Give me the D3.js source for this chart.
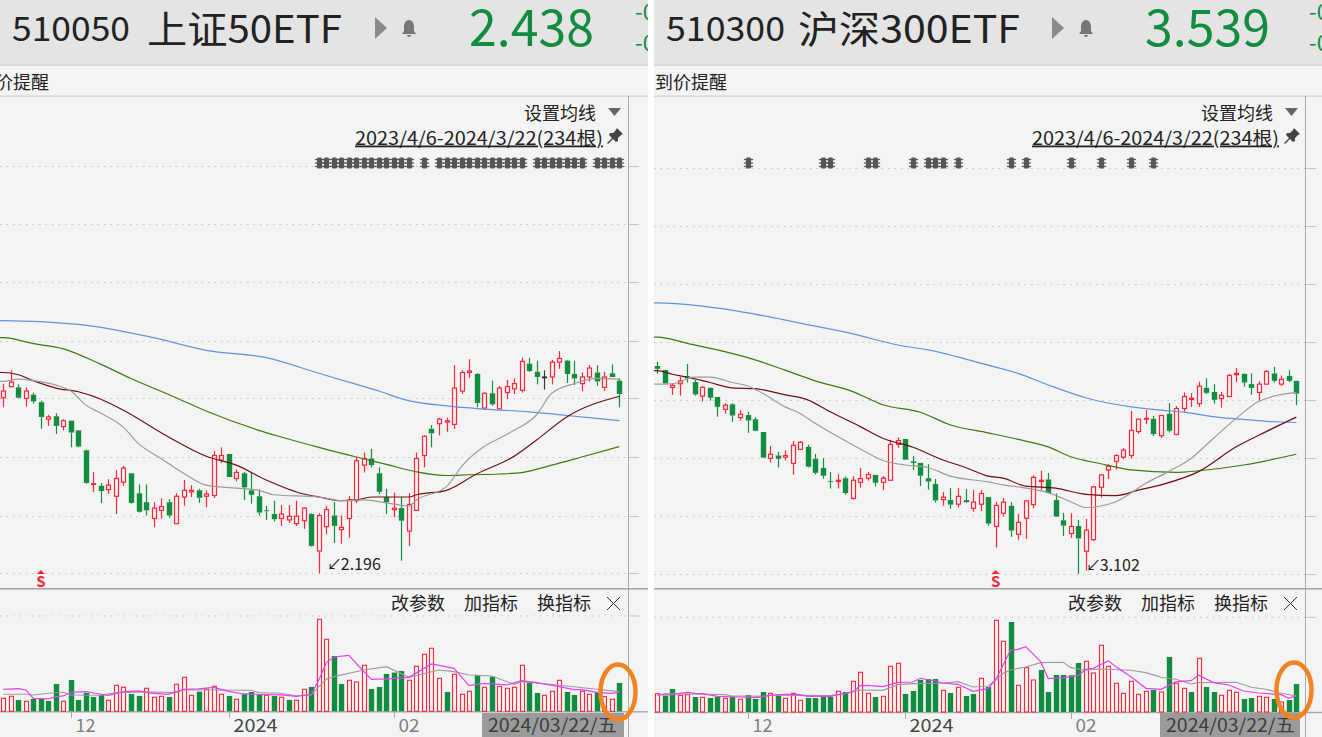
<!DOCTYPE html>
<html><head><meta charset="utf-8">
<script src="https://cdn.jsdelivr.net/npm/d3@7"></script>
<style>html,body{margin:0;padding:0;background:#fff;overflow:hidden}svg{display:block}text{font-family:"Noto Sans CJK SC","Noto Sans",sans-serif}</style>
</head><body><svg id="c" width="1322" height="737"></svg>
<script>
// ---------- 510050: [high, body top, body bottom, low]
const a50Candles=[[2.452,2.442,2.433,2.420],[2.470,2.454,2.448,2.447],[2.451,2.447,2.433,2.432],[2.447,2.442,2.432,2.421],[2.440,2.437,2.428,2.425],[2.429,2.427,2.407,2.391],[2.410,2.407,2.404,2.395],[2.412,2.408,2.395,2.384],[2.404,2.402,2.394,2.389],[2.402,2.402,2.386,2.366],
[2.389,2.389,2.367,2.366],[2.363,2.362,2.318,2.317],[2.333,2.317,2.316,2.306],[2.318,2.314,2.307,2.291],[2.323,2.315,2.309,2.303],[2.335,2.324,2.300,2.276],[2.341,2.338,2.319,2.314],[2.331,2.331,2.291,2.290],[2.316,2.304,2.279,2.278],[2.316,2.292,2.281,2.274],
[2.292,2.284,2.270,2.258],[2.297,2.286,2.281,2.270],[2.296,2.292,2.274,2.271],[2.304,2.300,2.263,2.263],[2.322,2.308,2.299,2.287],[2.315,2.308,2.306,2.299],[2.310,2.308,2.298,2.291],[2.308,2.303,2.300,2.285],[2.361,2.355,2.301,2.298],[2.366,2.355,2.349,2.345],
[2.357,2.357,2.326,2.326],[2.336,2.332,2.324,2.320],[2.333,2.331,2.312,2.295],[2.332,2.308,2.302,2.290],[2.309,2.300,2.278,2.274],[2.287,2.281,2.280,2.268],[2.294,2.276,2.269,2.266],[2.288,2.276,2.270,2.260],[2.288,2.273,2.268,2.264],[2.294,2.273,2.263,2.260],
[2.285,2.284,2.267,2.256],[2.277,2.276,2.233,2.232],[2.277,2.274,2.226,2.196],[2.287,2.282,2.259,2.249],[2.292,2.274,2.260,2.237],[2.274,2.258,2.255,2.236],[2.300,2.295,2.270,2.244],[2.353,2.348,2.294,2.291],[2.359,2.351,2.342,2.332],[2.364,2.351,2.342,2.339],
[2.339,2.331,2.306,2.303],[2.310,2.299,2.292,2.276],[2.305,2.284,2.282,2.272],[2.299,2.284,2.267,2.213],[2.304,2.289,2.253,2.233],[2.359,2.351,2.281,2.280],[2.382,2.381,2.355,2.339],[2.396,2.391,2.385,2.366],[2.406,2.404,2.398,2.382],[2.406,2.402,2.400,2.387],
[2.477,2.446,2.397,2.391],[2.470,2.467,2.442,2.438],[2.485,2.469,2.467,2.460],[2.466,2.465,2.426,2.420],[2.440,2.439,2.419,2.417],[2.456,2.439,2.424,2.422],[2.449,2.446,2.418,2.417],[2.457,2.448,2.440,2.431],[2.459,2.452,2.445,2.438],[2.487,2.482,2.443,2.440],
[2.487,2.479,2.469,2.468],[2.483,2.468,2.461,2.451],[2.470,2.461,2.461,2.444],[2.484,2.481,2.461,2.451],[2.496,2.486,2.481,2.472],[2.484,2.483,2.465,2.453],[2.483,2.465,2.459,2.450],[2.467,2.461,2.452,2.442],[2.477,2.473,2.461,2.455],[2.477,2.467,2.455,2.449],
[2.468,2.461,2.447,2.442],[2.478,2.466,2.461,2.461],[2.459,2.456,2.438,2.420]];
const a50Dir="rrgrggrgrg"+"ggrgrrrggg"+"rrgrrrgrrr"+"grgggggrrr"+"rgrrgrrrrg"+"ggrgrrrgrr"+"rrrgrgrrrr"+"ggkrrggrrg"+"rgg";
const a50Volume=[39,45,34,30,37,37,31,82,30,94,34,55,43,49,33,78,72,52,46,69,42,45,43,81,102,48,59,66,75,51,46,36,52,58,49,48,46,42,34,33,66,73,276,216,166,82,93,88,138,67,73,112,116,121,93,135,171,189,99,58,111,51,60,109,72,104,75,69,72,138,86,55,48,60,93,58,49,60,51,58,44,36,85];
const a50VolDir="rrgrggggrg"+"ggggrrrggr"+"rrgrrrgrrr"+"grgggrgrgr"+"rgrrggrrrg"+"ggggrrrrrg"+"rrrgrgrrrr"+"ggrrrggrrg"+"rrg";
const a50Ma120=[[0,2.537],[10,2.532],[20,2.514],[27,2.497],[35,2.487],[42,2.466],[46,2.454],[50,2.442],[54,2.429],[55,2.427],[60,2.421],[65,2.417],[70,2.414],[75,2.409],[82,2.402]];
const a50Ma60=[[0,2.514],[4,2.506],[8,2.499],[13,2.478],[17,2.459],[23,2.433],[27,2.415],[34,2.389],[37,2.380],[42,2.366],[47,2.353],[51,2.343],[55,2.333],[59,2.328],[62,2.329],[66,2.330],[69,2.332],[73,2.342],[77,2.353],[82,2.367]];
const a50Ma30=[[0,2.467],[2,2.464],[4,2.456],[7,2.446],[10,2.441],[13,2.431],[16,2.416],[22,2.380],[27,2.354],[31,2.342],[35,2.322],[40,2.303],[42,2.299],[45,2.294],[47,2.295],[49,2.299],[51,2.299],[54,2.299],[55,2.302],[59,2.308],[63,2.330],[68,2.354],[71,2.376],[75,2.407],[82,2.435]];
const a50Ma10=[[0,2.455],[2,2.458],[4,2.456],[7,2.450],[9,2.442],[11,2.423],[13,2.412],[16,2.393],[18,2.371],[21,2.351],[24,2.331],[27,2.315],[31,2.311],[34,2.308],[36,2.302],[42,2.299],[45,2.294],[48,2.295],[51,2.291],[54,2.287],[55,2.295],[59,2.313],[61,2.340],[64,2.367],[66,2.378],[68,2.389],[71,2.410],[73,2.439],[76,2.452],[79,2.459],[82,2.458]];
const a50VolMaA=[[0,66],[2,68],[3,64],[4,39],[6,37],[7,44],[8,46],[9,57],[11,59],[12,55],[14,48],[16,59],[18,61],[20,54],[22,51],[23,59],[24,66],[26,67],[28,72],[30,60],[32,52],[35,50],[37,49],[39,45],[41,51],[42,94],[43,146],[44,163],[46,168],[48,119],[49,96],[51,97],[54,102],[57,142],[60,129],[62,77],[64,84],[66,81],[67,79],[69,92],[71,86],[74,74],[76,65],[77,65],[79,57],[81,54],[82,57]];
const a50VolMaB=[[0,51],[3,51],[4,49],[6,54],[8,57],[9,49],[13,48],[15,56],[20,58],[23,56],[24,64],[28,64],[33,63],[34,56],[37,54],[39,46],[41,49],[42,74],[43,96],[44,104],[48,124],[51,134],[54,102],[58,124],[60,119],[62,109],[65,106],[68,81],[69,89],[75,76],[79,66],[82,59]];
const a50Events=[42,43,44,45,46,47,48,49,50,51,52,53,54,56,58,59,60,61,62,63,64,65,66,67,68,69,71,72,73,74,75,76,77,79,80,81,82];
const a50Grid=[2.196,2.274,2.353,2.432,2.510,2.589,2.667,2.746];

// ---------- 510300
const a300Candles=[[3.616,3.606,3.599,3.587],[3.597,3.596,3.564,3.562],[3.564,3.559,3.554,3.536],[3.580,3.570,3.563,3.534],[3.611,3.581,3.576,3.566],[3.572,3.567,3.537,3.534],[3.558,3.554,3.533,3.520],[3.554,3.553,3.529,3.522],[3.531,3.531,3.507,3.483],[3.516,3.511,3.501,3.490],
[3.516,3.513,3.486,3.471],[3.499,3.489,3.481,3.474],[3.495,3.487,3.474,3.444],[3.482,3.477,3.449,3.448],[3.446,3.446,3.384,3.383],[3.412,3.392,3.382,3.372],[3.398,3.389,3.381,3.360],[3.402,3.389,3.385,3.377],[3.424,3.414,3.370,3.343],[3.424,3.421,3.404,3.402],
[3.415,3.410,3.362,3.360],[3.393,3.381,3.347,3.343],[3.383,3.359,3.340,3.333],[3.349,3.327,3.326,3.309],[3.344,3.329,3.326,3.309],[3.338,3.334,3.298,3.294],[3.339,3.329,3.285,3.282],[3.359,3.333,3.324,3.311],[3.349,3.343,3.334,3.328],[3.342,3.342,3.323,3.314],
[3.339,3.334,3.324,3.306],[3.427,3.416,3.329,3.328],[3.433,3.425,3.416,3.408],[3.429,3.429,3.379,3.378],[3.388,3.375,3.371,3.354],[3.371,3.371,3.340,3.315],[3.368,3.334,3.326,3.306],[3.332,3.320,3.280,3.275],[3.301,3.288,3.282,3.267],[3.310,3.281,3.270,3.260],
[3.310,3.290,3.271,3.263],[3.308,3.281,3.276,3.274],[3.305,3.276,3.261,3.253],[3.305,3.297,3.271,3.255],[3.288,3.288,3.224,3.219],[3.276,3.268,3.217,3.166],[3.286,3.276,3.249,3.241],[3.276,3.267,3.207,3.192],[3.247,3.227,3.198,3.185],[3.281,3.279,3.237,3.187],
[3.341,3.336,3.270,3.261],[3.352,3.329,3.326,3.305],[3.347,3.331,3.298,3.297],[3.297,3.281,3.241,3.241],[3.250,3.232,3.219,3.194],[3.249,3.217,3.200,3.189],[3.233,3.218,3.188,3.102],[3.235,3.208,3.157,3.110],[3.315,3.313,3.185,3.182],[3.344,3.342,3.312,3.287],
[3.368,3.363,3.354,3.332],[3.392,3.389,3.375,3.355],[3.407,3.402,3.385,3.381],[3.497,3.450,3.389,3.382],[3.479,3.477,3.447,3.442],[3.499,3.479,3.477,3.465],[3.485,3.478,3.441,3.436],[3.487,3.486,3.437,3.432],[3.516,3.490,3.449,3.445],[3.509,3.503,3.440,3.438],
[3.542,3.532,3.503,3.495],[3.540,3.528,3.525,3.507],[3.568,3.557,3.515,3.507],[3.576,3.553,3.541,3.538],[3.562,3.543,3.524,3.515],[3.543,3.535,3.527,3.505],[3.587,3.583,3.532,3.532],[3.601,3.588,3.585,3.567],[3.588,3.587,3.566,3.556],[3.588,3.562,3.553,3.536],
[3.569,3.562,3.542,3.522],[3.596,3.593,3.562,3.561],[3.604,3.588,3.570,3.566],[3.583,3.574,3.562,3.558],[3.596,3.582,3.570,3.567],[3.570,3.570,3.539,3.511]];
const a300Dir="ggrrggrggr"+"grgggrgrrr"+"ggggrgrrrg"+"rrrgggggrg"+"rgrrgrrgrr"+"rrgggrgrrr"+"rrrrrrgrgr"+"rrrggrrrgg"+"rrgrgg";
const a300Volume=[55,49,69,50,52,45,44,42,45,41,45,38,51,39,60,56,49,41,56,35,42,42,45,45,62,60,92,119,56,45,47,137,146,54,63,96,99,99,65,57,74,48,54,101,75,275,212,270,80,133,96,126,60,111,111,110,147,152,117,200,137,86,56,92,53,62,66,60,165,86,71,60,161,75,60,50,65,59,39,42,47,44,39,30,36,84];
const a300VolDir="rggrrgrggr"+"grgggrgrrr"+"ggggrgrrrg"+"rrrgggggrg"+"rggrgrrgrr"+"rggggggrrr"+"rrrrrrgrgr"+"rgrggrrrgg"+"rrgrgg";
const a300Ma120=[[0,3.759],[6,3.751],[12,3.735],[19,3.710],[26,3.684],[32,3.657],[36,3.645],[44,3.608],[48,3.588],[52,3.560],[57,3.529],[59,3.520],[63,3.507],[67,3.499],[70,3.494],[75,3.481],[77,3.478],[81,3.472],[85,3.469]];
const a300Ma60=[[0,3.676],[4,3.661],[8,3.645],[13,3.621],[17,3.596],[21,3.570],[26,3.544],[30,3.512],[35,3.494],[39,3.463],[44,3.444],[48,3.428],[52,3.410],[55,3.386],[59,3.369],[63,3.354],[69,3.348],[72,3.352],[78,3.366],[85,3.392]];
const a300Ma30=[[0,3.595],[2,3.586],[4,3.579],[7,3.566],[10,3.553],[13,3.551],[17,3.536],[20,3.524],[23,3.495],[27,3.459],[30,3.431],[34,3.409],[38,3.378],[41,3.360],[44,3.339],[46,3.334],[49,3.315],[53,3.310],[57,3.295],[61,3.292],[64,3.305],[67,3.318],[72,3.350],[77,3.410],[81,3.447],[85,3.482]];
const a300Ma10=[[0,3.562],[1,3.562],[3,3.566],[4,3.576],[5,3.579],[7,3.579],[10,3.566],[12,3.558],[14,3.540],[17,3.507],[19,3.491],[21,3.467],[24,3.435],[27,3.405],[30,3.377],[33,3.366],[36,3.360],[39,3.339],[44,3.325],[46,3.318],[49,3.310],[52,3.299],[55,3.277],[57,3.263],[61,3.277],[65,3.322],[68,3.350],[71,3.382],[74,3.431],[77,3.479],[80,3.520],[85,3.542]];
const a300VolMaA=[[0,51],[2,52],[3,56],[4,59],[5,56],[6,55],[8,47],[11,45],[13,43],[15,50],[17,53],[19,52],[20,47],[23,47],[26,60],[27,79],[28,80],[30,76],[32,89],[34,90],[35,101],[37,93],[38,87],[40,83],[42,62],[44,70],[45,96],[47,186],[48,188],[49,196],[51,151],[52,100],[54,103],[56,110],[57,128],[58,131],[60,154],[61,136],[63,106],[65,71],[67,68],[69,91],[71,94],[72,110],[74,88],[76,81],[78,63],[80,57],[83,52],[84,41],[85,49]];
const a300VolMaB=[[0,50],[1,55],[4,54],[9,52],[10,48],[12,48],[14,47],[16,51],[19,50],[23,49],[25,56],[27,66],[30,65],[32,82],[34,85],[38,86],[40,91],[42,75],[44,78],[45,96],[46,116],[47,126],[49,135],[51,148],[54,149],[55,133],[57,125],[59,129],[63,125],[65,118],[67,104],[69,98],[71,84],[72,88],[77,89],[79,74],[81,68],[83,56],[85,48]];
const a300Events=[12,22,23,28,29,34,36,37,38,40,47,49,55,59,63,66];
const a300Grid=[3.102,3.242,3.383,3.523,3.664,3.805,3.946,4.087];

const tickLabels=["12","2024","02"];
const tickWidths=[20,44,21];
const a50TickIdx=[9,30,52], a300TickIdx=[12,33,55];
const menuLabels=["改参数","加指标","换指标"];

const C={red:"#ff2438",green:"#128c3e",doji:"#333",ma120:"#5f93dc",ma60:"#3d7a12",ma30:"#6e0f12",ma10:"#9c9c9c",magenta:"#e83ff0",grid:"#c4c4c4",line:"#b4b4b4",orange:"#f58220"};
const svg=d3.select("#c");
const defs=svg.append("defs");

function drawPanel(o){
  const cid="clip"+o.code;
  defs.append("clipPath").attr("id",cid).append("rect").attr("x",o.left).attr("y",0).attr("width",o.right-o.left).attr("height",737);
  const g=svg.append("g").attr("clip-path",`url(#${cid})`);
  const t=(s,x,y,size,fill,anchor)=>g.append("text").text(s).attr("x",x).attr("y",y).attr("font-size",size).attr("fill",fill||"#222").attr("text-anchor",anchor||"start");
  const fit=(sel,w)=>sel.attr("textLength",w).attr("lengthAdjust","spacingAndGlyphs");
  g.append("rect").attr("x",o.left).attr("y",0).attr("width",o.right-o.left).attr("height",737).attr("fill","#f4f4f4");
  g.append("rect").attr("x",o.left).attr("y",0).attr("width",o.right-o.left).attr("height",65).attr("fill","#e4e4e4");
  g.append("rect").attr("x",o.left).attr("y",64).attr("width",o.right-o.left).attr("height",2).attr("fill","#dadada");
  g.append("rect").attr("x",o.left).attr("y",95.5).attr("width",o.right-o.left).attr("height",1.2).attr("fill","#cfcfcf");

  // header
  fit(t(o.code,o.left+12,41,34,"#222"),o.codeW);
  fit(t(o.name,o.nameX,43,38,"#222"),o.nameW);
  g.append("path").attr("d",`M${o.arrowX},17L${o.arrowX+12},28L${o.arrowX},39Z`).attr("fill","#8a8a8a");
  const b=o.arrowX+34;
  g.append("path").attr("d",`M${b},20c-3,0-5,3-5,7l0,4l-2,3l14,0l-2,-3l0,-4c0,-4-2,-7-5,-7ZM${b-2},35a2,2 0 0 0 4,0Z`).attr("fill","#777");
  t(o.price,o.priceX,46,50,C.green);
  t("-0",o.right-13,20,22,C.green);
  t("-0",o.right-13,51,22,C.green);
  t("到价提醒",o.alertX,89,18,"#222");

  const x=d3.scaleLinear().domain([0,o.candles.length-1]).range(o.xr);
  const y=d3.scaleLinear().domain(o.pd).range(o.pr);
  const v=d3.scaleLinear().domain([0,o.vmax]).range(o.vr);

  // grid
  g.selectAll(null).data(o.grid).enter().append("line").attr("x1",o.left).attr("x2",o.axisX).attr("y1",d=>Math.round(y(d))+.5).attr("y2",d=>Math.round(y(d))+.5).attr("stroke",C.grid).attr("stroke-dasharray","1.5,5");
  g.selectAll(null).data(o.grid).enter().append("line").attr("x1",o.axisX).attr("x2",o.axisX+11).attr("y1",d=>Math.round(y(d))+.5).attr("y2",d=>Math.round(y(d))+.5).attr("stroke",C.grid);
  const vg=v(o.vgrid);
  g.append("line").attr("x1",o.left).attr("x2",o.axisX).attr("y1",vg).attr("y2",vg).attr("stroke",C.grid).attr("stroke-dasharray","1.5,5");
  g.append("line").attr("x1",o.axisX).attr("x2",o.axisX+11).attr("y1",vg).attr("y2",vg).attr("stroke",C.grid);
  g.append("line").attr("x1",o.axisX+.5).attr("x2",o.axisX+.5).attr("y1",96).attr("y2",737).attr("stroke","#aaa");
  g.append("rect").attr("x",o.left).attr("y",588).attr("width",o.right-o.left).attr("height",1.6).attr("fill","#a8a8a8");
  g.append("rect").attr("x",o.left).attr("y",v(0)-.2).attr("width",o.right-o.left).attr("height",1.4).attr("fill","#a8a8a8");

  // candles
  const col=i=>o.dir[i]==="r"?C.red:o.dir[i]==="g"?C.green:C.doji;
  const cg=g.append("g");
  o.candles.forEach((c,i)=>{
    const [hi,top,bot,lo]=c, cx=Math.round(x(i))+.5, s=col(i);
    cg.append("line").attr("x1",cx).attr("x2",cx).attr("y1",y(hi)).attr("y2",y(top)).attr("stroke",s).attr("stroke-width",1.2);
    cg.append("line").attr("x1",cx).attr("x2",cx).attr("y1",y(bot)).attr("y2",y(lo)).attr("stroke",s).attr("stroke-width",1.2);
    const h=Math.max(y(bot)-y(top),.8);
    if(o.dir[i]==="g") cg.append("rect").attr("x",cx-2.7).attr("y",y(top)).attr("width",5.4).attr("height",h).attr("fill",s);
    else cg.append("rect").attr("x",cx-2).attr("y",y(top)).attr("width",4).attr("height",h).attr("fill","none").attr("stroke",s).attr("stroke-width",1.2);
  });

  // moving averages
  const ln=d3.line().curve(d3.curveMonotoneX).x(d=>x(d[0])).y(d=>y(d[1]));
  [[o.ma120,C.ma120],[o.ma60,C.ma60],[o.ma30,C.ma30],[o.ma10,C.ma10]].forEach(([d,s])=>g.append("path").attr("d",ln([[-.5,d[0][1]],...d])).attr("fill","none").attr("stroke",s).attr("stroke-width",1.2));

  // events
  o.events.forEach(i=>{
    const cx=Math.round(x(i))+.5;
    const m=g.append("g").attr("transform",`translate(${cx},163)`).attr("fill","#565656");
    m.append("rect").attr("x",-2.6).attr("y",-5.5).attr("width",5.2).attr("height",11).attr("rx",1.5);
    [-3.5,0,3.5].forEach(d=>m.append("rect").attr("x",-4.6).attr("y",d-.6).attr("width",9.2).attr("height",1.2));
  });

  // low label + S signal
  const li=o.lowIdx, lx=x(li), ly=o.lowLabelY;
  t("↙",lx+o.lowDx,ly+6,15,"#222");
  t(o.lowText,lx+o.lowDx+14,ly+6,16,"#222");
  const sx=x(o.signalIdx);
  g.append("path").attr("d",`M${sx-4},574L${sx},570L${sx+4},574Z`).attr("fill",C.red);
  t("S",sx,587,15,C.red,"middle").attr("font-weight",700).attr("font-family","DejaVu Sans");

  // top-right controls
  t("设置均线",o.axisX-104,120,18);
  g.append("path").attr("d",`M${o.axisX-20},108L${o.axisX-7},108L${o.axisX-13.5},116Z`).attr("fill","#666");
  fit(t(o.range,o.axisX-273,144.5,18),o.rangeW).attr("text-decoration","underline");
  const p=o.axisX-21;
  g.append("path").attr("d",`M${p+10},128l6,6l-2,1l-3,3l0,3l-2,1l-3,-3l-5,5l-1,-1l5,-5l-3,-3l1,-2l3,0l3,-3Z`).attr("fill","#444");

  menuLabels.forEach((s,i)=>t(s,o.menuX+i*73,610,18));
  const cxx=o.axisX-21;
  g.append("path").attr("d",`M${cxx},597L${cxx+13},610M${cxx+13},597L${cxx},610`).attr("stroke","#333").attr("fill","none");

  // volume
  const vgp=g.append("g");
  o.volume.forEach((d,i)=>{
    const cx=Math.round(x(i))+.5, s=o.volDir[i]==="r"?C.red:C.green;
    if(o.volDir[i]==="g") vgp.append("rect").attr("x",cx-2.7).attr("y",v(d)).attr("width",5.4).attr("height",v(0)-v(d)).attr("fill",s);
    else vgp.append("rect").attr("x",cx-2).attr("y",v(d)).attr("width",4).attr("height",v(0)-v(d)).attr("fill","none").attr("stroke",s).attr("stroke-width",1.1);
  });
  const lv=d3.line().x(d=>x(d[0])).y(d=>v(d[1]));
  g.append("path").attr("d",lv(o.volMaB)).attr("fill","none").attr("stroke","#9c9c9c").attr("stroke-width",1.1);
  g.append("path").attr("d",lv(o.volMaA)).attr("fill","none").attr("stroke",C.magenta).attr("stroke-width",1.2);

  // time axis
  const base=v(0);
  tickLabels.forEach((s,i)=>{
    const tx=Math.round(x(o.ticks[i]))+.5;
    g.append("line").attr("x1",tx).attr("x2",tx).attr("y1",base).attr("y2",base+7).attr("stroke","#aaa");
    fit(t(s,tx+4,732,18,s==="2024"?"#444":"#808080"),tickWidths[i]);
  });
  g.append("rect").attr("x",o.dateX).attr("y",713).attr("width",o.dateW).attr("height",24).attr("fill","#9b9b9b");
  fit(t("2024/03/22/五",o.dateX+6,732,18,"#3c3c3c"),129);

  // highlight
  g.append("ellipse").attr("cx",o.ring[0]).attr("cy",o.ring[1]).attr("rx",17.5).attr("ry",27.5).attr("fill","none").attr("stroke",C.orange).attr("stroke-width",4.5);
}

drawPanel({code:"510050",name:"上证50ETF",price:"2.438",codeW:118,nameW:195,rangeW:248,nameX:147,arrowX:375,priceX:469,alertX:-23,left:0,right:648,axisX:628,
  candles:a50Candles,dir:a50Dir,volume:a50Volume,volDir:a50VolDir,ma120:a50Ma120,ma60:a50Ma60,ma30:a50Ma30,ma10:a50Ma10,volMaA:a50VolMaA,volMaB:a50VolMaB,events:a50Events,grid:a50Grid,
  xr:[3.3,619.3],pd:[2.4974,2.196],pr:[350,573.3],vmax:276,vr:[711.3,619.3],vgrid:286,ticks:a50TickIdx,
  lowIdx:42,lowLabelY:564,lowDx:8,lowText:"2.196",signalIdx:5,range:"2023/4/6-2024/3/22(234根)",menuX:391,dateX:482,dateW:142,ring:[618,692]});
drawPanel({code:"510300",name:"沪深300ETF",price:"3.539",codeW:119,nameW:222,rangeW:247,nameX:798,arrowX:1052,priceX:1145,alertX:655,left:654,right:1322,axisX:1305,
  candles:a300Candles,dir:a300Dir,volume:a300Volume,volDir:a300VolDir,ma120:a300Ma120,ma60:a300Ma60,ma30:a300Ma30,ma10:a300Ma10,volMaA:a300VolMaA,volMaB:a300VolMaB,events:a300Events,grid:a300Grid,
  xr:[657.3,1296.3],pd:[3.6448,3.102],pr:[350,573.9],vmax:275,vr:[712,620.3],vgrid:284,ticks:a300TickIdx,
  lowIdx:57,lowLabelY:565,lowDx:0,lowText:"3.102",signalIdx:45,range:"2023/4/6-2024/3/22(234根)",menuX:1068,dateX:1160,dateW:140,ring:[1294,690]});
</script></body></html>
